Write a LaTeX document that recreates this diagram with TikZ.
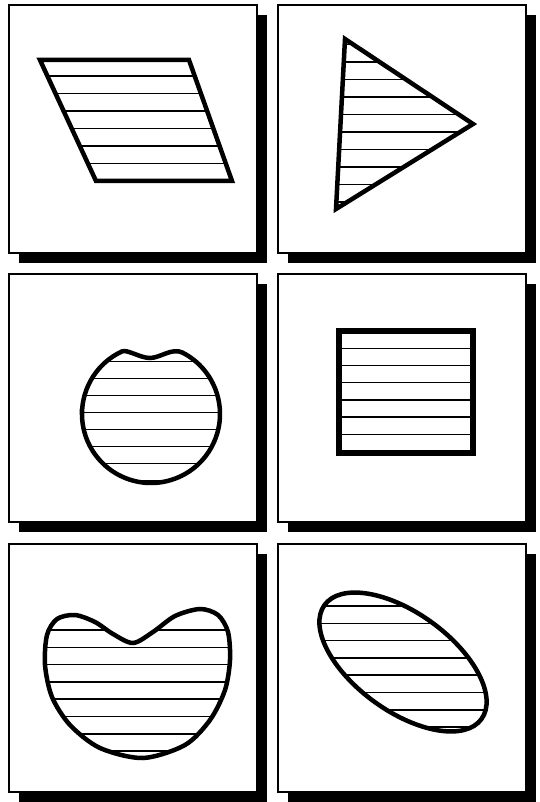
\documentclass[tikz,border=0pt]{standalone}

\tikzset{
    panel/.style={draw=black, fill=white, line width=1.2pt},
    outline/.style={line width=4.5pt},
    hatch/.style={line width=1.5pt},
    hatched/.style={path picture={\foreach \y in {#1} {\draw[hatch] (0,\y) -- (539,\y);}}},
}

% box with its drop shadow, #1,#2 = top left corner
\newcommand{\panelbox}[2]{%
    \fill[black] (#1+10,#2+10) rectangle ++(248,248);
    \draw[panel] (#1,#2) rectangle ++(248,248);
}

\begin{document}
\begin{tikzpicture}[x=1pt, y=-1pt]
    \useasboundingbox (0,0) rectangle (539,802);

    \panelbox{9}{5}
    \panelbox{278}{5}
    \panelbox{9}{274}
    \panelbox{278}{274}
    \panelbox{9}{544}
    \panelbox{278}{544}

    % parallelogram
    \draw[outline, hatched={58.5,76,...,182}]
        (40,60) -- (189,60) -- (232,181) -- (96,181) -- cycle;

    % triangle
    \draw[outline, hatched={44.5,62,...,210}]
        (345,39) -- (473,124) -- (336,209) -- cycle;

    % dented circle
    \draw[outline, hatched={344.7,361.7,...,484}]
        (82,414) arc[start angle=180, end angle=245, radius=69]
        .. controls (127.2,349) and (140,358) .. (150,358)
        .. controls (160,358) and (172,347.5) .. (182.3,352.5)
        arc[start angle=297, end angle=540, radius=69] -- cycle;

    % square
    \draw[outline, line width=6.5pt, hatched={348.3,365.5,...,452}]
        (339,331) rectangle (473,453);

    % kidney
    \draw[outline, hatched={630,647.3,...,760}]
        plot[smooth cycle] coordinates {(75,615) (95,622) (113,634) (133,643)
        (153,632) (175,616) (200,609) (218,615) (228,632) (230,660) (225,690)
        (210,720) (185,745) (143,758) (100,748) (70,725) (52,697) (45,665)
        (47,635) (57,619)};

    % tilted ellipse
    \draw[outline, hatched={588.7,606,...,735}]
        (403,662) ellipse [x radius=97, y radius=49, rotate=-36];
\end{tikzpicture}
\end{document}
